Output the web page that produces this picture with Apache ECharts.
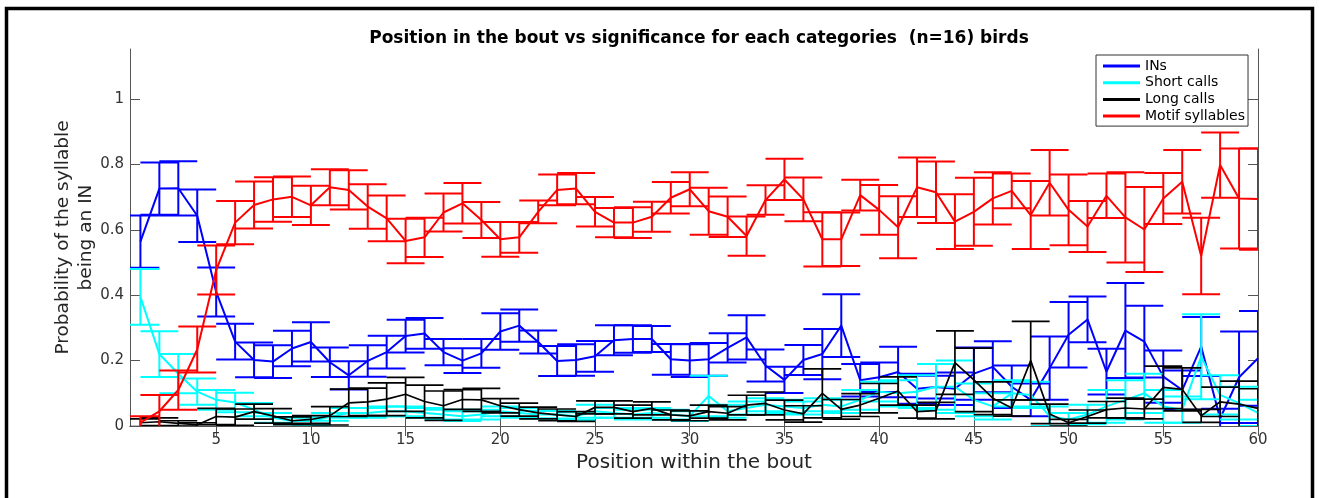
<!DOCTYPE html>
<html><head><meta charset="utf-8">
<script src="https://cdn.jsdelivr.net/npm/echarts@6/dist/echarts.min.js"></script>
<style>html,body{margin:0;padding:0;background:#fff}#c{width:1319px;height:498px}</style>
</head><body><div id="c"></div>
<script>
const titleText = 'Position in the bout vs significance for each categories  (n=16) birds';
const seriesNames = ['INs', 'Short calls', 'Long calls', 'Motif syllables'];
const positions = [1,2,3,4,5,6,7,8,9,10,11,12,13,14,15,16,17,18,19,20,21,22,23,24,25,26,27,28,29,30,
  31,32,33,34,35,36,37,38,39,40,41,42,43,44,45,46,47,48,49,50,51,52,53,54,55,56,57,58,59,60];
const xTicks = [5,10,15,20,25,30,35,40,45,50,55,60];
const yTicks = [0,0.2,0.4,0.6,0.8,1];

const insMean = [0.564,0.726,0.727,0.643,0.41,0.258,0.202,0.197,0.237,0.257,
  0.195,0.155,0.199,0.226,0.275,0.283,0.226,0.2,0.222,0.289,
  0.307,0.257,0.199,0.202,0.213,0.262,0.266,0.266,0.204,0.2,
  0.204,0.239,0.271,0.185,0.141,0.202,0.22,0.307,0.14,0.149,
  0.165,0.114,0.119,0.114,0.16,0.181,0.12,0.08,0.177,0.279,
  0.326,0.166,0.292,0.258,0.151,0.11,0.243,0.023,0.149,0.207];
const insErr = [0.08,0.08,0.083,0.08,0.075,0.055,0.053,0.05,0.054,0.06,
  0.045,0.043,0.048,0.05,0.05,0.047,0.04,0.038,0.044,0.056,
  0.049,0.035,0.046,0.048,0.047,0.046,0.042,0.04,0.047,0.05,
  0.05,0.045,0.068,0.049,0.04,0.046,0.077,0.096,0.05,0.045,
  0.077,0.046,0.035,0.05,0.08,0.078,0.065,0.05,0.097,0.1,
  0.07,0.07,0.145,0.11,0.08,0.06,0.09,0.03,0.14,0.145];

const shortMean = [0.395,0.22,0.16,0.105,0.08,0.072,0.05,0.025,0.015,0.015,
  0.028,0.04,0.04,0.045,0.045,0.04,0.035,0.03,0.035,0.045,
  0.04,0.035,0.035,0.03,0.045,0.04,0.035,0.04,0.035,0.03,
  0.092,0.045,0.055,0.065,0.06,0.055,0.065,0.06,0.08,0.105,
  0.1,0.105,0.12,0.12,0.08,0.06,0.1,0.095,0.03,0.02,
  0.035,0.06,0.08,0.1,0.06,0.05,0.212,0.095,0.07,0.04];
const shortErr = [0.085,0.07,0.06,0.04,0.03,0.03,0.02,0.015,0.01,0.012,
  0.012,0.015,0.015,0.015,0.015,0.015,0.015,0.015,0.015,0.015,
  0.015,0.012,0.012,0.012,0.02,0.015,0.015,0.015,0.015,0.015,
  0.062,0.02,0.02,0.02,0.02,0.02,0.02,0.02,0.03,0.03,
  0.04,0.05,0.07,0.08,0.05,0.04,0.04,0.04,0.03,0.02,
  0.03,0.05,0.06,0.06,0.05,0.04,0.13,0.06,0.05,0.04];

const longMean = [0.01,0.013,0.008,0.004,0.029,0.027,0.044,0.031,0.016,0.02,
  0.031,0.071,0.074,0.082,0.097,0.075,0.062,0.081,0.08,0.062,
  0.05,0.04,0.034,0.029,0.057,0.057,0.044,0.054,0.034,0.031,
  0.044,0.039,0.064,0.069,0.049,0.037,0.1,0.051,0.064,0.085,
  0.107,0.044,0.047,0.194,0.141,0.085,0.055,0.2,0.037,0.01,
  0.029,0.05,0.055,0.052,0.118,0.112,0.031,0.074,0.067,0.054];
const longErr = [0.012,0.012,0.008,0.006,0.025,0.025,0.023,0.022,0.012,0.012,
  0.028,0.042,0.042,0.05,0.052,0.05,0.045,0.03,0.035,0.022,
  0.02,0.018,0.018,0.015,0.02,0.02,0.02,0.02,0.015,0.015,
  0.02,0.02,0.03,0.035,0.03,0.025,0.075,0.03,0.035,0.045,
  0.043,0.02,0.025,0.097,0.097,0.05,0.025,0.12,0.03,0.01,
  0.02,0.025,0.03,0.03,0.065,0.066,0.02,0.045,0.07,0.06];

const motifMean = [0.01,0.045,0.11,0.234,0.477,0.622,0.676,0.693,0.701,0.675,
  0.73,0.722,0.671,0.635,0.566,0.577,0.653,0.681,0.63,0.571,
  0.577,0.655,0.722,0.726,0.655,0.622,0.622,0.64,0.698,0.724,
  0.657,0.64,0.581,0.691,0.754,0.693,0.571,0.571,0.706,0.661,
  0.608,0.73,0.715,0.625,0.655,0.696,0.719,0.645,0.744,0.661,
  0.61,0.704,0.638,0.601,0.696,0.747,0.52,0.798,0.696,0.694];
const motifErr = [0.02,0.05,0.06,0.07,0.075,0.066,0.072,0.068,0.062,0.06,
  0.055,0.06,0.068,0.07,0.068,0.06,0.058,0.062,0.055,0.053,
  0.047,0.035,0.047,0.048,0.045,0.045,0.047,0.046,0.048,0.052,
  0.072,0.062,0.06,0.045,0.063,0.067,0.083,0.082,0.047,0.076,
  0.095,0.091,0.094,0.084,0.104,0.08,0.053,0.104,0.1,0.108,
  0.078,0.068,0.138,0.13,0.078,0.097,0.117,0.1,0.153,0.155];

const colors = ['#0000FF', '#00FFFF', '#000000', '#FF0000'];
const widths = [2, 2, 1.7, 2];
const means = [insMean, shortMean, longMean, motifMean];
const errs = [insErr, shortErr, longErr, motifErr];

const FONT = 'DejaVu Sans';
const axisColor = '#555555';
const capHalf = 1;

function errRender(color, lw) {
  return function (params, api) {
    const x = api.value(0), lo = api.value(1), hi = api.value(2);
    const pLo = api.coord([x, lo]), pHi = api.coord([x, hi]);
    const cL1 = api.coord([x - capHalf, lo]), cR1 = api.coord([x + capHalf, lo]);
    const cL2 = api.coord([x - capHalf, hi]), cR2 = api.coord([x + capHalf, hi]);
    const st = { stroke: color, lineWidth: lw, fill: null };
    return {
      type: 'group',
      children: [
        { type: 'line', shape: { x1: pLo[0], y1: pLo[1], x2: pHi[0], y2: pHi[1] }, style: st },
        { type: 'line', shape: { x1: cL1[0], y1: cL1[1], x2: cR1[0], y2: cR1[1] }, style: st },
        { type: 'line', shape: { x1: cL2[0], y1: cL2[1], x2: cR2[0], y2: cR2[1] }, style: st }
      ]
    };
  };
}

const series = [];
for (let s = 0; s < 4; s++) {
  const errData = positions.map((p, i) => [p, means[s][i] - errs[s][i], means[s][i] + errs[s][i]]);
  series.push({
    name: seriesNames[s] + ' error',
    type: 'custom',
    clip: true,
    renderItem: errRender(colors[s], widths[s]),
    data: errData,
    encode: { x: 0, y: [1, 2] },
    silent: true,
    z: 2 + s * 2
  });
  series.push({
    name: seriesNames[s],
    type: 'line',
    data: positions.map((p, i) => [p, means[s][i]]),
    symbol: 'none',
    lineStyle: { color: colors[s], width: widths[s] },
    itemStyle: { color: colors[s] },
    clip: true,
    z: 3 + s * 2
  });
}

const chart = echarts.init(document.getElementById('c'), null, { renderer: 'canvas' });
chart.setOption({
  animation: false,
  backgroundColor: '#ffffff',
  title: {
    text: titleText,
    left: 694, top: 25, textAlign: 'center',
    textStyle: { fontFamily: FONT, fontSize: 17, fontWeight: 'bold', color: '#000' }
  },
  legend: {
    data: seriesNames,
    orient: 'vertical',
    left: 1096, top: 55,
    icon: 'rect', itemWidth: 37, itemHeight: 3, itemGap: 2.7,
    padding: [4, 3, 3, 7],
    backgroundColor: '#ffffff',
    borderColor: '#333333', borderWidth: 1,
    textStyle: { fontFamily: FONT, fontSize: 14, lineHeight: 14, color: '#000' }
  },
  grid: { left: 130, right: 61, top: 49, bottom: 72 },
  xAxis: [{
    type: 'value', min: 0.45, max: 60, position: 'bottom',
    name: 'Position within the bout', nameLocation: 'middle', nameGap: 26,
    nameTextStyle: { fontFamily: FONT, fontSize: 20, color: '#262626' },
    axisLine: { show: true, lineStyle: { color: axisColor, width: 1 } },
    axisTick: { show: true, inside: true, length: 10, customValues: xTicks, lineStyle: { color: axisColor } },
    axisLabel: { customValues: xTicks, margin: 7, fontFamily: FONT, fontSize: 15, color: '#333333' },
    splitLine: { show: false }
  }, {
    type: 'value', min: 0.45, max: 60, position: 'top',
    axisLine: { show: true, lineStyle: { color: axisColor, width: 1 } },
    axisTick: { show: true, inside: true, length: 10, customValues: xTicks, lineStyle: { color: axisColor } },
    axisLabel: { show: false },
    splitLine: { show: false }
  }],
  yAxis: [{
    type: 'value', min: 0, max: 1.153, position: 'left',
    name: 'Probability of the syllable\nbeing an IN', nameLocation: 'middle', nameGap: 32,
    nameMoveOverlap: false,
    nameTextStyle: { fontFamily: FONT, fontSize: 18.5, color: '#262626', lineHeight: 23 },
    axisLine: { show: true, lineStyle: { color: axisColor, width: 1 } },
    axisTick: { show: true, inside: true, length: 10, customValues: yTicks, lineStyle: { color: axisColor } },
    axisLabel: { customValues: yTicks, margin: 6, fontFamily: FONT, fontSize: 15, color: '#333333' },
    splitLine: { show: false }
  }, {
    type: 'value', min: 0, max: 1.153, position: 'right',
    axisLine: { show: true, lineStyle: { color: axisColor, width: 1 } },
    axisTick: { show: true, inside: true, length: 10, customValues: yTicks, lineStyle: { color: axisColor } },
    axisLabel: { show: false },
    splitLine: { show: false }
  }],
  graphic: [{
    type: 'rect', silent: true, z: 100,
    shape: { x: 6.5, y: 8.5, width: 1306, height: 520 },
    style: { fill: null, stroke: '#000000', lineWidth: 3.5 }
  }],
  series: series
});
</script>
</body></html>
